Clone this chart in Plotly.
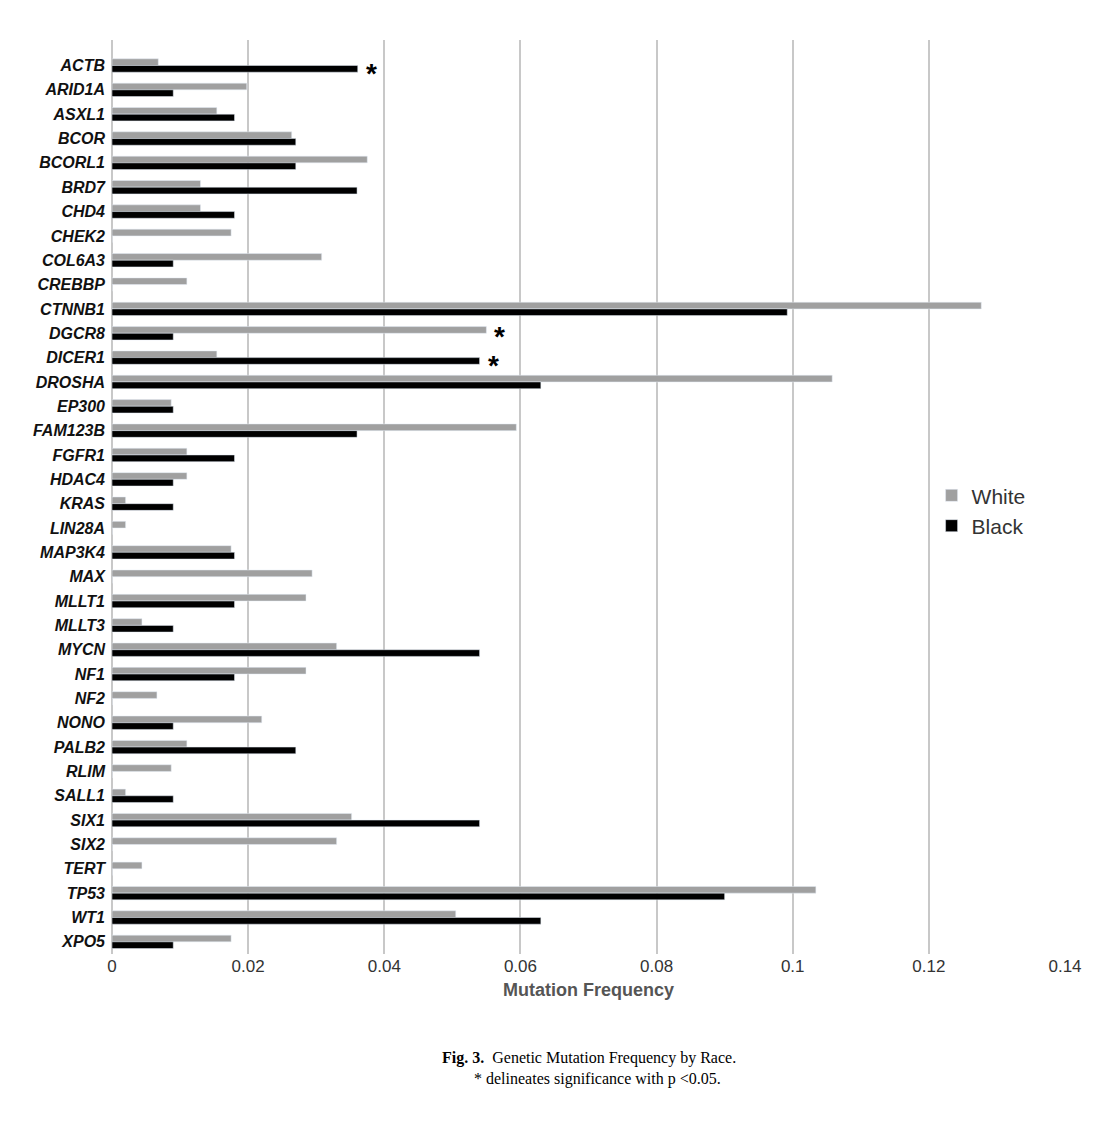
import plotly.graph_objects as go

genes = ["ACTB", "ARID1A", "ASXL1", "BCOR", "BCORL1", "BRD7", "CHD4", "CHEK2", "COL6A3", "CREBBP",
         "CTNNB1", "DGCR8", "DICER1", "DROSHA", "EP300", "FAM123B", "FGFR1", "HDAC4", "KRAS", "LIN28A",
         "MAP3K4", "MAX", "MLLT1", "MLLT3", "MYCN", "NF1", "NF2", "NONO", "PALB2", "RLIM",
         "SALL1", "SIX1", "SIX2", "TERT", "TP53", "WT1", "XPO5"]
white = [0.0068, 0.0198, 0.0154, 0.0264, 0.0375, 0.013, 0.013, 0.0175, 0.0308, 0.011,
         0.1277, 0.055, 0.0154, 0.1058, 0.0087, 0.0594, 0.011, 0.011, 0.002, 0.002,
         0.0175, 0.0294, 0.0285, 0.0044, 0.033, 0.0285, 0.0066, 0.022, 0.011, 0.0087,
         0.002, 0.0352, 0.033, 0.0044, 0.1034, 0.0505, 0.0175]
black = [0.0361, 0.009, 0.018, 0.027, 0.027, 0.036, 0.018, 0, 0.009, 0,
         0.0992, 0.009, 0.054, 0.063, 0.009, 0.036, 0.018, 0.009, 0.009, 0,
         0.018, 0, 0.018, 0.009, 0.054, 0.018, 0, 0.009, 0.027, 0,
         0.009, 0.054, 0, 0, 0.090, 0.063, 0.009]
significant = {"ACTB": 0.0361, "DGCR8": 0.055, "DICER1": 0.054}
star_shift = {"ACTB": -8, "DGCR8": -3, "DICER1": -8}

labels = ["<b><i>%s</i></b>" % g for g in genes]

fig = go.Figure()
fig.add_trace(go.Bar(y=labels, x=white, orientation="h", name="White", marker_color="#a0a0a0"))
fig.add_trace(go.Bar(y=labels, x=black, orientation="h", name="Black", marker_color="#000000"))

for g, v in significant.items():
    fig.add_annotation(x=v, y="<b><i>%s</i></b>" % g, text="<b>*</b>", showarrow=False,
                       xanchor="left", xshift=6, yshift=star_shift[g],
                       font=dict(size=28, color="black"))

fig.add_annotation(x=0.5, y=-0.125, xref="paper", yref="paper", showarrow=False, yanchor="middle",
                   text="<b>Fig. 3.</b>  Genetic Mutation Frequency by Race.<br>        * delineates significance with p <0.05.",
                   align="left", font=dict(family="Liberation Serif", size=16, color="black"))

fig.update_layout(
    width=1104, height=1124,
    paper_bgcolor="white", plot_bgcolor="white",
    margin=dict(l=104, r=47, t=32, b=178),
    barmode="group", bargap=0.45, bargroupgap=0,
    font=dict(family="Liberation Sans", color="#222"),
    legend=dict(x=0.86, y=0.485, xanchor="left", yanchor="middle", font=dict(size=21, color="#333"),
                bgcolor="rgba(0,0,0,0)", itemwidth=30, tracegroupgap=14),
    xaxis=dict(range=[0, 0.14], dtick=0.02, tickformat="~g", showgrid=True, gridcolor="#c8c8c8",
               gridwidth=1.5, zeroline=True, zerolinecolor="#c8c8c8", zerolinewidth=1.5,
               tickfont=dict(size=17, color="#333"),
               title=dict(text="<b>Mutation Frequency</b>", font=dict(size=18, color="#555"), standoff=8)),
    yaxis=dict(autorange="reversed", tickfont=dict(size=16, color="#111"), ticks="", ticklabelstandoff=6,
               showgrid=False, automargin=False),
)

fig.write_html("out.html")
